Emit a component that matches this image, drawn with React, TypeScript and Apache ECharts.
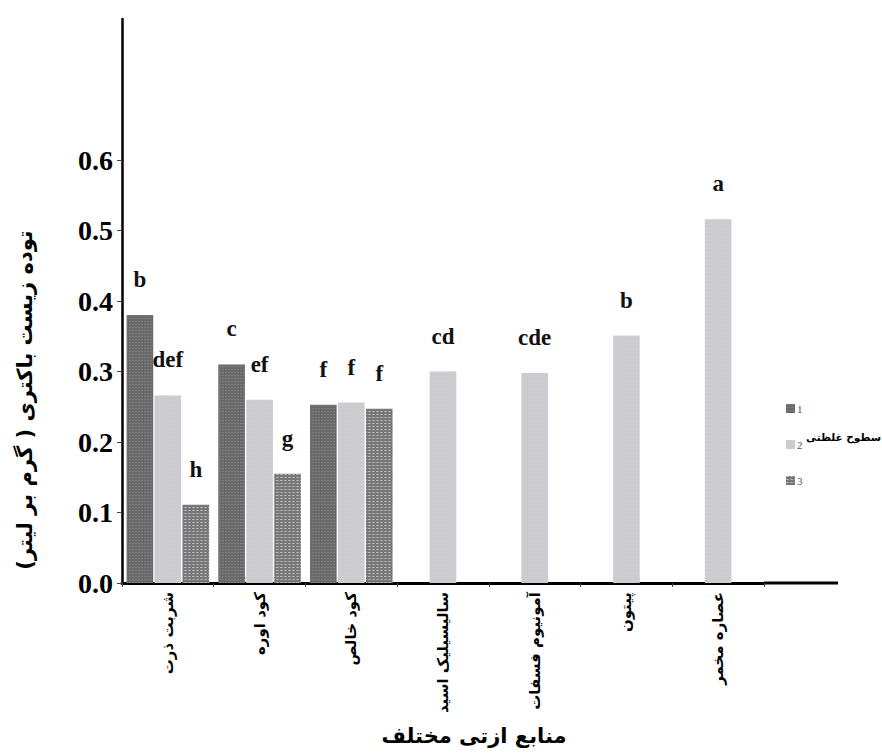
import React, { useEffect, useRef } from 'react';
import * as echarts from 'echarts';

const categories = ['شربت ذرت', 'کود اوره', 'کود خالص', 'سالیسیلیک اسید', 'آمونیوم فسفات', 'پیتون', 'عصاره مخمر'];
const seriesNames = ['1', '2', '3'];
const level1 = [0.38, 0.31, 0.253, null, null, null, null];
const level2 = [0.266, 0.26, 0.256, 0.3, 0.298, 0.351, 0.516];
const level3 = [0.111, 0.155, 0.247, null, null, null, null];
const letters1 = ['b', 'c', 'f', '', '', '', ''];
const letters2 = ['def', 'ef', 'f', 'cd', 'cde', 'b', 'a'];
const letters3 = ['h', 'g', 'f', '', '', '', ''];
const yTickValues = [0, 0.1, 0.2, 0.3, 0.4, 0.5, 0.6];
const yAxisTitle = 'توده زیست باکتری ( گرم بر لیتر)';
const xAxisTitle = 'منابع ازتی مختلف';
const legendTitle = 'سطوح غلظتی';

const ARABIC_FONT = '"DejaVu Sans", "Noto Sans", sans-serif';
const SERIF = '"Liberation Serif", "DejaVu Serif", serif';

export default function App() {
  const ref = useRef<HTMLDivElement>(null);
  useEffect(() => {
    document.body.style.margin = '0';
    if (!ref.current) return;
    const chart = echarts.init(ref.current, undefined, { renderer: 'svg' });
    const letterLabel = (letters: string[]) => ({
      show: true,
      position: 'top',
      distance: 24,
      formatter: (p: any) => letters[p.dataIndex] || '',
      fontFamily: SERIF,
      fontWeight: 'bold',
      fontSize: 23,
      color: '#111',
    });
    const seriesStyles = [
      {
        color: '#6a6a6a',
        decal: { symbol: 'rect', symbolSize: 0.7, dashArrayX: [2, 1], dashArrayY: [1, 2], color: 'rgba(215,215,215,0.5)' },
      },
      {
        color: '#cbcbd0',
        decal: { symbol: 'rect', symbolSize: 0.6, dashArrayX: [1, 2], dashArrayY: [1, 3], color: 'rgba(238,238,242,0.6)' },
      },
      {
        color: '#777777',
        decal: { symbol: 'rect', symbolSize: 0.8, dashArrayX: [3, 1], dashArrayY: [1, 2], color: 'rgba(230,230,230,0.6)' },
      },
    ];
    const dataSets = [level1, level2, level3];
    const letterSets = [letters1, letters2, letters3];
    chart.setOption({
      animation: false,
      backgroundColor: '#fff',
      grid: { left: 122, right: 118, top: 19, bottom: 172, containLabel: false },
      legend: {
        orient: 'vertical',
        left: 781,
        top: 398,
        itemWidth: 9,
        itemHeight: 9,
        itemGap: 25,
        icon: 'rect',
        textStyle: { fontFamily: SERIF, fontSize: 11, color: '#555', padding: [0, 0, 0, -3] },
        data: seriesNames,
      },
      xAxis: {
        type: 'category',
        data: categories,
        boundaryGap: true,
        axisLine: { lineStyle: { color: '#000', width: 3 } },
        axisTick: { show: true, inside: false, length: 4, alignWithLabel: false, lineStyle: { color: '#444', width: 1 } },
        axisLabel: {
          rotate: 90,
          margin: 9,
          interval: 0,
          fontFamily: ARABIC_FONT,
          fontWeight: 'bold',
          fontSize: 15,
          color: '#000',
        },
        splitLine: { show: false },
      },
      yAxis: {
        type: 'value',
        min: 0,
        max: 0.8,
        interval: 0.1,
        axisLine: { show: true, lineStyle: { color: '#000', width: 2.5 } },
        axisTick: { show: true, inside: false, length: 5, customValues: yTickValues, lineStyle: { color: '#444' } },
        axisLabel: {
          customValues: yTickValues,
          formatter: (v: number) => v.toFixed(1),
          margin: 9,
          fontFamily: SERIF,
          fontWeight: 'bold',
          fontSize: 28,
          color: '#000',
        },
        splitLine: { show: false },
      },
      series: seriesNames.map((name, i) => ({
        name,
        type: 'bar',
        data: dataSets[i],
        barCategoryGap: '10%',
        barGap: '5%',
        itemStyle: seriesStyles[i],
        label: letterLabel(letterSets[i]),
      })),
      graphic: [
        {
          type: 'line',
          shape: { x1: 764, y1: 583, x2: 838, y2: 583 },
          style: { stroke: '#000', lineWidth: 3 },
        },
        {
          type: 'text',
          x: 25,
          y: 400,
          rotation: Math.PI / 2,
          style: {
            text: yAxisTitle,
            fontFamily: ARABIC_FONT,
            fontWeight: 'bold',
            fontSize: 21,
            fill: '#000',
            align: 'center',
            verticalAlign: 'middle',
          },
        },
        {
          type: 'text',
          x: 474,
          y: 736,
          style: {
            text: xAxisTitle,
            fontFamily: ARABIC_FONT,
            fontWeight: 'bold',
            fontSize: 21,
            fill: '#000',
            align: 'center',
            verticalAlign: 'middle',
          },
        },
        {
          type: 'text',
          x: 881,
          y: 437,
          style: {
            text: legendTitle,
            fontFamily: ARABIC_FONT,
            fontWeight: 'bold',
            fontSize: 10.5,
            fill: '#000',
            align: 'right',
            verticalAlign: 'middle',
          },
        },
      ],
    });
    return () => chart.dispose();
  }, []);
  return <div ref={ref} style={{ width: 882, height: 755 }} />;
}
